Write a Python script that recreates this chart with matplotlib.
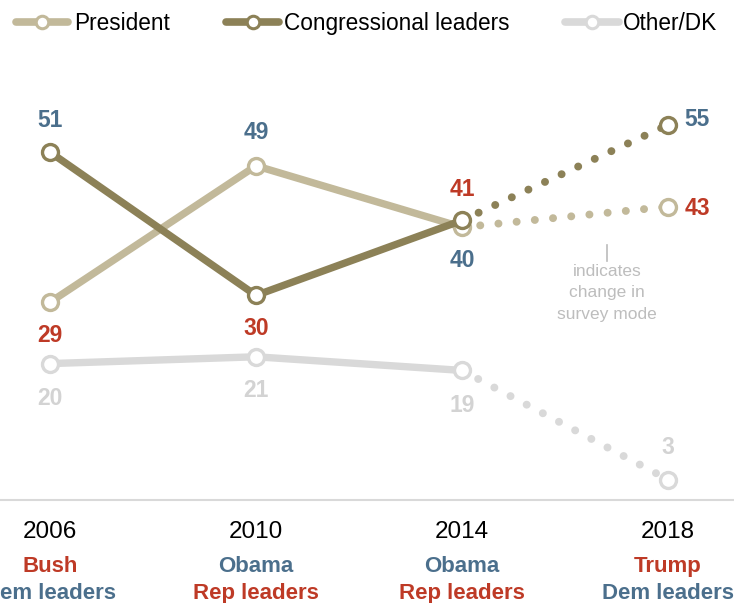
import matplotlib
matplotlib.use("Agg")
import matplotlib.pyplot as plt
from matplotlib.transforms import blended_transform_factory

plt.rcParams['font.family'] = ['Liberation Sans', 'DejaVu Sans']

years = [2006, 2010, 2014, 2018]
president = [29, 49, 40, 43]
congress = [51, 30, 41, 55]
other = [20, 21, 19, 3]
pres_label = ['Bush', 'Obama', 'Obama', 'Trump']
cong_label = ['Dem leaders', 'Rep leaders', 'Rep leaders', 'Dem leaders']
pres_party = ['R', 'D', 'D', 'R']
cong_party = ['D', 'R', 'R', 'D']
legend_labels = ['President', 'Congressional leaders', 'Other/DK']

C_PRES = '#C2B99A'
C_CONG = '#8C8157'
C_OTH = '#D9D9D9'
RED = '#BE3A26'
BLUE = '#4B6F8C'
GRAY_TXT = '#D3D3D3'
party_col = {'R': RED, 'D': BLUE}

fig = plt.figure(figsize=(7.34, 6.03), dpi=100)
W, H = 734, 603
ax = fig.add_axes([0, 103 / H, 1, (500 - 60) / H])
ax.set_xlim(2006 - 50 / 206 * 4, 2018 + 66 / 206 * 4)
ax.set_ylim(0, 440 / 6.82)
for s in ['top', 'left', 'right']:
    ax.spines[s].set_visible(False)
ax.spines['bottom'].set_color('#D9D9D9')
ax.spines['bottom'].set_linewidth(1.5)
ax.set_xticks([])
ax.set_yticks([])

LW = 5.3
MS = 11.5
MEW = 2.4
dot = (0, (0.01, 2.3))
for vals, col, z in [(other, C_OTH, 2), (president, C_PRES, 3), (congress, C_CONG, 4)]:
    ax.plot(years[:3], vals[:3], color=col, lw=LW, solid_capstyle='round', zorder=z)
    ax.plot(years[2:], vals[2:], color=col, lw=LW + 0.4, linestyle=dot, dash_capstyle='round', zorder=z)
    ax.plot(years, vals, linestyle='none', marker='o', ms=MS, mfc='white', mec=col, mew=MEW, zorder=z + 0.5)

fs_val = 16.5
def lab(x, y, txt, col, dx=0, dy=0):
    ax.annotate(txt, (x, y), xytext=(dx, dy), textcoords='offset points', ha='center', va='center',
                fontsize=fs_val, fontweight='bold', color=col)

# congressional
lab(2006, 51, '51', BLUE, 0, 23)
lab(2010, 30, '30', RED, 0, -24)
lab(2014, 41, '41', RED, 0, 22)
lab(2018, 55, '55', BLUE, 21, 4)
# president
lab(2006, 29, '29', RED, 0, -24)
lab(2010, 49, '49', BLUE, 0, 24)
lab(2014, 40, '40', BLUE, 0, -24)
lab(2018, 43, '43', RED, 21, -1)
# other
lab(2006, 20, '20', GRAY_TXT, 0, -25)
lab(2010, 21, '21', GRAY_TXT, 0, -24)
lab(2014, 19, '19', GRAY_TXT, 0, -25)
lab(2018, 3, '3', GRAY_TXT, 0, 23)

# survey mode note
tr = blended_transform_factory(ax.transData, fig.transFigure)
xn = 2014 + (607 - 462) / 206 * 4
ax.plot([xn, xn], [1 - 245 / H, 1 - 261 / H], transform=tr, color='#BBBBBB', lw=1.2, clip_on=False)
for i, t in enumerate(['indicates', 'change in', 'survey mode']):
    ax.text(xn, 1 - (276 + 21.5 * i) / H, t, transform=tr, ha='center', va='baseline',
            fontsize=12.5, color='#BDBDBD')

# x labels
for i, yr in enumerate(years):
    ax.text(yr, 1 - 538 / H, str(yr), transform=tr, ha='center', va='baseline', fontsize=17.5,
            fontweight='normal', color='black')
    ax.text(yr, 1 - 572 / H, pres_label[i], transform=tr, ha='center', va='baseline', fontsize=16,
            fontweight='bold', color=party_col[pres_party[i]])
    ax.text(yr, 1 - 599 / H, cong_label[i], transform=tr, ha='center', va='baseline', fontsize=16,
            fontweight='bold', color=party_col[cong_party[i]])

# legend (manual, figure pixel positions)
leg = fig.add_axes([0, 0, 1, 1], facecolor='none')
leg.set_xlim(0, W)
leg.set_ylim(H, 0)
leg.axis('off')
for (x0, x1, xt), c, t in zip([(16, 68, 74), (226, 279, 284), (565, 619, 623)],
                               (C_PRES, C_CONG, C_OTH), legend_labels):
    leg.plot([x0, x1], [22, 22], color=c, lw=5.5, solid_capstyle='round')
    leg.plot([(x0 + x1) / 2], [22], marker='o', ms=9, mfc='white', mec=c, mew=2.2)
    leg.text(xt, 30, t, ha='left', va='baseline', fontsize=16.3, fontweight='normal', color='black')

fig.savefig('out.png', dpi=100)
